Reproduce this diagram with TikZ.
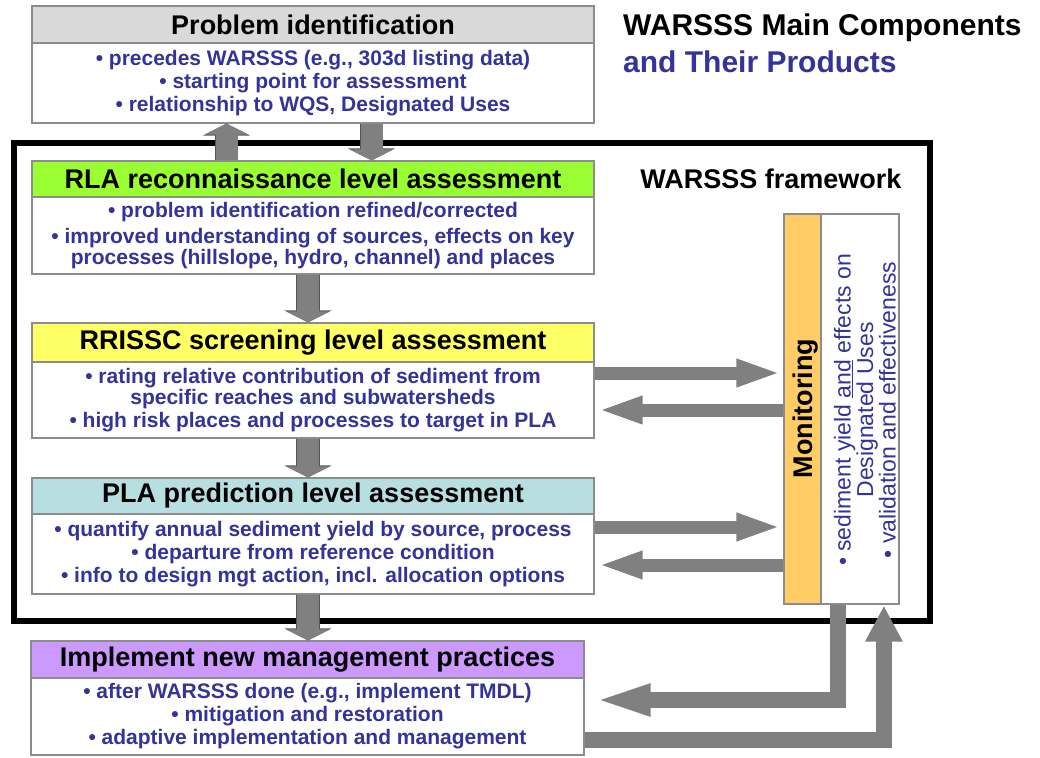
\documentclass[tikz,border=0pt]{standalone}
\usepackage{fontspec}
\setmainfont{Liberation Sans}
\usetikzlibrary{arrows.meta,calc}
\definecolor{edgegray}{RGB}{140,140,140}
\definecolor{arrowgray}{RGB}{128,128,128}
\definecolor{arrowedge}{RGB}{85,85,85}
\definecolor{hgray}{RGB}{217,217,217}
\definecolor{hgreen}{RGB}{153,255,51}
\definecolor{hyellow}{RGB}{255,255,102}
\definecolor{hcyan}{RGB}{183,223,226}
\definecolor{hpurple}{RGB}{204,153,255}
\definecolor{horange}{RGB}{255,204,102}
\definecolor{tblue}{RGB}{51,51,153}
\tikzset{
  hdr/.style={draw=edgegray, line width=1.2pt, minimum width=562pt, minimum height=37pt, inner sep=0pt,
    font=\fontsize{27}{30}\selectfont\bfseries, text=black},
  bdy/.style={draw=edgegray, line width=1.2pt, fill=white, minimum width=562pt, inner sep=0pt, align=center,
    font=\fontsize{21}{20.5}\selectfont\bfseries, text=tblue},
  blockarrow/.style={draw=arrowgray, line width=22pt, -{Triangle[length=11pt,width=44pt]},
    preaction={draw=arrowedge, line width=23.6pt, -{Triangle[length=12pt,width=46.5pt]}}},
  sidearrow/.style={draw=arrowgray, line width=13pt, -{Triangle[length=45pt,width=25pt]}},
  elbowarrow/.style={draw=arrowgray, line width=16pt, line join=miter},
}
\begin{document}
\begin{tikzpicture}[x=1pt,y=-1pt]
\useasboundingbox (0,0) rectangle (1040,757);
% framework frame
\node[draw=black, line width=6pt, minimum width=916pt, minimum height=478.5pt, inner sep=0pt] (frame) at (472,381.75) {};
\node[anchor=base, font=\fontsize{27}{30}\selectfont\bfseries] (fw) at (771,188) {WARSSS framework};
% titles
\node[anchor=base west, inner sep=0pt, font=\fontsize{30}{32}\selectfont\bfseries] (t1) at (623,36) {WARSSS Main Components};
\node[anchor=base west, inner sep=0pt, text=tblue, font=\fontsize{30}{32}\selectfont\bfseries] (t2) at (623,73) {and Their Products};
% Problem identification
\node[hdr, fill=hgray] (ph) at (313,24.5) {Problem identification};
\node[bdy, minimum height=80pt] (pb) at (313,83) {• precedes WARSSS (e.g., 303d listing data)\\[2.5pt]• starting point for assessment\\[2.5pt]• relationship to WQS, Designated Uses};
% RLA
\node[hdr, fill=hgreen, minimum height=36pt] (rh) at (313,179) {RLA reconnaissance level assessment};
\node[bdy, minimum height=77pt] (rb) at (313,235.5) {• problem identification refined/corrected\\[5.5pt]• improved understanding of sources, effects on key\\processes (hillslope, hydro, channel) and places};
% RRISSC
\node[hdr, fill=hyellow, minimum height=39pt] (sh) at (313,342.5) {RRISSC screening level assessment};
\node[bdy, minimum height=76pt] (sb) at (313,400) {• rating relative contribution of sediment from\\specific reaches and subwatersheds\\[2.5pt]• high risk places and processes to target in PLA};
% PLA
\node[hdr, fill=hcyan, minimum height=36pt] (lh) at (313,496) {PLA prediction level assessment};
\node[bdy, minimum height=80pt] (lb) at (313,554) {• quantify annual sediment yield by source, process\\[2.5pt]• departure from reference condition\\[2.5pt]• info to design mgt action, incl. allocation options};
% Implement
\node[hdr, fill=hpurple, minimum width=553pt] (ih) at (307.5,659.5) {Implement new management practices};
\node[bdy, minimum width=553pt, minimum height=77pt] (ib) at (307.5,716.5) {• after WARSSS done (e.g., implement TMDL)\\[2.5pt]• mitigation and restoration\\[2.5pt]• adaptive implementation and management};
% Monitoring
\node[draw=edgegray, line width=1.2pt, fill=horange, minimum width=37pt, minimum height=390pt, inner sep=0pt] (mon) at (802.5,409) {};
\node[draw=edgegray, line width=1.2pt, fill=white, minimum width=78pt, minimum height=390pt, inner sep=0pt] (monb) at (860,409) {};
\node[rotate=90, inner sep=0pt, font=\fontsize{27}{30}\selectfont\bfseries] (montxt) at (806,408.5) {Monitoring};
\node[rotate=90, inner sep=0pt, align=center, text=tblue, font=\fontsize{23}{22.5}\selectfont] (monbtxt) at (865,410) {• sediment yield \underline{and} effects on\\Designated Uses\\• validation and effectiveness};
% vertical block arrows
\draw[blockarrow] ([xshift=-86.5pt]rh.north) -- ([xshift=-86.5pt]pb.south);
\draw[blockarrow] ([xshift=58.5pt]pb.south) -- ([xshift=58.5pt]rh.north);
\draw[blockarrow] ([xshift=-5pt]rb.south) -- ([xshift=-5pt]sh.north);
\draw[blockarrow] ([xshift=-5pt]sb.south) -- ([xshift=-5pt]lh.north);
\draw[blockarrow] ([xshift=-5pt]lb.south) -- ([xshift=0.5pt]ih.north);
% side arrows
\coordinate (s1) at ([yshift=27pt]sb.east);
\coordinate (s2) at ([yshift=-10pt]sb.east);
\coordinate (l1) at ([yshift=27pt]lb.east);
\coordinate (l2) at ([yshift=-11pt]lb.east);
\draw[sidearrow, shorten >=2pt] (s1) -- (s1 -| mon.west);
\draw[sidearrow, shorten >=3pt] (s2 -| mon.west) -- (s2);
\draw[sidearrow, shorten >=2pt] (l1) -- (l1 -| mon.west);
\draw[sidearrow, shorten >=3pt] (l2 -| mon.west) -- (l2);
% bottom elbow arrows
\coordinate (d1) at ([xshift=17.5pt]monb.south west);
\coordinate (d2) at ([yshift=16.5pt]ib.east);
\coordinate (u1) at ([yshift=-23.5pt]ib.east);
\coordinate (u2) at ([xshift=63.5pt]monb.south west);
\draw[elbowarrow, -{Triangle[length=63pt,width=27pt]}, shorten >=3pt] (d1) |- (d2);
\draw[elbowarrow, -{Triangle[length=36pt,width=35pt]}, shorten >=1pt] (u1) -| (u2);
\end{tikzpicture}
\end{document}
